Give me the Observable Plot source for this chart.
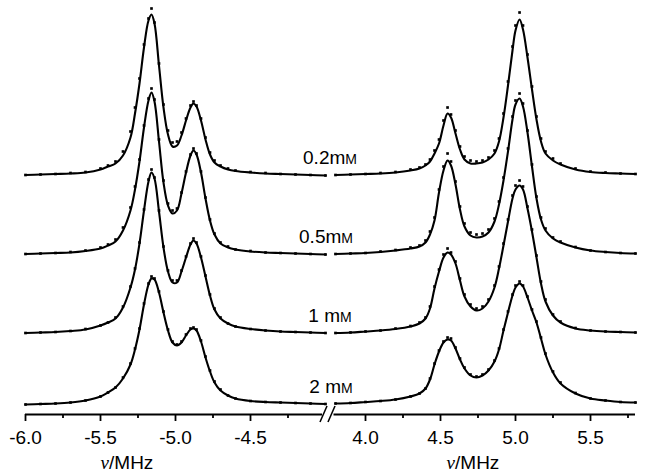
<!DOCTYPE html>
<html><head><meta charset="utf-8">
<script src="https://cdn.jsdelivr.net/npm/d3@7"></script>
<script src="https://cdn.jsdelivr.net/npm/@observablehq/plot@0.6"></script>
<style>
html,body{margin:0;padding:0;background:#fff;}
#chart{width:645px;height:476px;}
</style></head><body><div id="chart"></div>
<script>
// ---------- DATA (intensity in arbitrary units) ----------
const concentrations = ["0.2", "0.5", "1", "2"];           // mM
const labelMain = ["0.2m", "0.5m", "1 m", "2 m"];
const labelSmallCap = "M";

const freqLeft = [-6.00,-5.90,-5.80,-5.70,-5.60,-5.50,-5.45,-5.40,-5.35,-5.30,-5.27,-5.24,-5.21,-5.18,-5.16,-5.14,-5.11,-5.08,-5.05,-5.02,-4.99,-4.96,-4.93,-4.90,-4.88,-4.86,-4.83,-4.80,-4.77,-4.74,-4.70,-4.65,-4.60,-4.50,-4.40,-4.30,-4.20,-4.10,-4.00];
const freqRight = [3.80,3.90,4.00,4.10,4.20,4.30,4.36,4.40,4.43,4.46,4.49,4.52,4.547,4.57,4.60,4.63,4.66,4.70,4.74,4.78,4.82,4.86,4.89,4.92,4.95,4.98,5.00,5.027,5.05,5.08,5.11,5.14,5.17,5.20,5.25,5.30,5.40,5.50,5.60,5.70,5.80];

// fitted curves (solid lines)
const fitLeft_02 = [0.5,1,1.5,2,3,6,9,12,20,38,62,92,128,155,161,152,110,68,41,29,30,40,55,68,72,69,55,36,21,13,9,6,4.5,3,2,1.5,1,0.5,0];
const fitLeft_05 = [0.5,1,1.5,2,3.5,6,9,13,24,44,65,93,127,154,162,153,113,72,49,41,44,61,82,99,104,100,82,56,34,20,11,7,5,3,2,1.5,1,0.5,0];
const fitLeft_1  = [0.5,1,1.5,2.5,4,8,11,15,26,46,64,90,123,152,161,155,122,86,62,51,51,62,76,89,93,90,76,57,38,24,15,10,7,4.5,3,2,1.5,1,0.5];
const fitLeft_2  = [0,0.5,1,2,4,8,12,17,26,40,55,75,100,120,126,125,112,92,74,62,59,62,69,75,76,74,63,47,33,22,14,9,6,3.5,2.5,2,1.5,1,0.5];

const fitRight_02 = [0.5,1,1.5,2,3,5,7,10,14,22,32,50,62,58,42,26,16,12,12,13,16,22,34,58,90,125,145,156,146,118,86,56,34,22,15,11,6,3.5,2.5,2,1.5];
const fitRight_05 = [0.5,1,1.5,2.5,4,6,8,12,20,34,62,84,94,89,70,45,28,19,17,18,22,33,50,74,103,135,150,156,148,122,88,56,35,24,16,12,7,4,2.5,1.5,1];
const fitRight_1  = [0.5,1,2,3,4.5,7,10,15,25,45,62,76,81,79,70,53,37,27,23,25,32,46,65,88,112,135,144,148,144,125,102,76,50,32,18,11,5,3,2,1.5,1];
const fitRight_2  = [1,1.5,2.5,3.5,5,8,11,16,25,40,53,62,65,64,56,45,36,29,27,29,34,43,55,74,92,109,117,121,118,107,94,82,66,50,32,21,11,6,4,2.5,2];

// measured points (dots)
const dataLeft_02 = [0.5,1,1.5,2.5,3.5,7,10,14,24,44,68,97,131,157,167,153,112,71,45,33,34,43,57,70,74,70,57,38,23,15,10,7,5,3.5,2.5,1.5,1,0.5,0];
const dataLeft_05 = [0.5,1,1.5,2.5,4,7,10,15,27,47,68,95,129,156,166,155,115,74,51,44,46,62,83,100,106,101,83,57,35,21,12,8,5,3.5,2,1.5,1,0.5,0];
const dataLeft_1  = [0.5,1,1.5,2.5,4.5,8,11,16,27,47,65,91,124,154,164,156,123,87,63,53,53,63,77,90,95,91,77,58,39,25,16,10,7,4.5,3,2,1.5,1,0.5];
const dataLeft_2  = [0,0.5,1,2,4,8,12,17,27,41,56,76,101,121,128,126,113,93,75,63,60,63,70,76,77,75,64,48,34,23,15,9,6,3.5,2.5,2,1.5,1,0.5];

const dataRight_02 = [0.5,1,1.5,2.5,3.5,6,8,11,16,25,36,55,68,61,45,29,19,15,14,15,18,25,37,62,94,129,150,163,150,121,89,59,37,24,17,12,7,4,3,2,1.5];
const dataRight_05 = [0.5,1,1.5,3,4.5,7,9,14,23,37,65,88,101,93,73,48,31,22,20,21,25,36,53,77,106,138,154,161,151,124,90,58,37,26,17,13,7.5,4,2.5,1.5,1];
const dataRight_1  = [0.5,1,2,3,5,7.5,11,16,27,47,64,79,85,81,72,55,39,29,25,27,34,48,67,90,114,138,148,153,147,127,104,78,52,34,19,12,5.5,3,2,1.5,1];
const dataRight_2  = [1,1.5,2.5,3.5,5,8,11,16,26,41,54,63,67,66,57,46,37,30,28,30,35,44,56,75,93,110,119,123,119,108,95,83,67,51,33,22,11.5,6,4,2.5,2];

const majorTicks = [-6.0,-5.5,-5.0,-4.5,4.0,4.5,5.0,5.5];
const minorTicks = [-5.75,-5.25,-4.75,-4.25,4.25,4.75,5.25,5.75];
const axisTitle = "/MHz";

// ---------- LAYOUT ----------
// broken axis: the right panel (3.8 … 5.8) is shifted to sit just after the left one (-6 … -4)
const LEFT_END = -4.0, RIGHT_START = 3.8, GAP = 10 / 150;
const toU = f => f <= LEFT_END + 1e-9 ? f : f - RIGHT_START + LEFT_END + GAP;
const fromU = u => u <= LEFT_END + 1e-9 ? u : u + RIGHT_START - LEFT_END - GAP;

const stackOffset = [239, 160, 81, 10];   // vertical stacking of the traces
const fits = [[fitLeft_02, fitRight_02],[fitLeft_05, fitRight_05],[fitLeft_1, fitRight_1],[fitLeft_2, fitRight_2]];
const datas = [[dataLeft_02, dataRight_02],[dataLeft_05, dataRight_05],[dataLeft_1, dataRight_1],[dataLeft_2, dataRight_2]];

const fitRows = [], dataRows = [];
concentrations.forEach((c, i) => {
  [freqLeft, freqRight].forEach((fx, side) => {
    fx.forEach((f, k) => {
      fitRows.push({x: toU(f), y: fits[i][side][k] + stackOffset[i], s: c + "-" + side});
      dataRows.push({x: toU(f), y: datas[i][side][k] + stackOffset[i]});
    });
  });
});

const FONT = "'Liberation Sans', Arial, Helvetica, sans-serif";

const plot = Plot.plot({
  width: 645, height: 476,
  marginLeft: 25, marginRight: 10, marginTop: 4, marginBottom: 62,
  x: {domain: [toU(-6), toU(5.8)], range: [25, 635]},
  y: {domain: [0, 410], range: [414, 4], axis: null},
  style: {fontFamily: FONT, fontSize: "19px", color: "black", background: "white", overflow: "visible"},
  marks: [
    Plot.line(fitRows, {x: "x", y: "y", z: "s", stroke: "black", strokeWidth: 2.1, curve: "catmull-rom"}),
    Plot.dot(dataRows, {x: "x", y: "y", symbol: "square", r: 1.5, fill: "black", stroke: null}),
    Plot.ruleY([0], {x1: toU(-6), x2: toU(-4.02), stroke: "black", strokeWidth: 2}),
    Plot.ruleY([0], {x1: toU(3.79), x2: toU(5.8), stroke: "black", strokeWidth: 2}),
    Plot.axisX({ticks: majorTicks.map(toU), tickSize: 7, tickPadding: 9, tickFormat: u => fromU(u).toFixed(1), label: null, strokeWidth: 1.8, fontSize: 19, fill: "black"}),
    Plot.axisX({ticks: minorTicks.map(toU), tickSize: 4, tickFormat: () => "", label: null, strokeWidth: 1.8})
  ]
});
document.getElementById("chart").appendChild(plot);

// ---------- annotations ----------
const xs = plot.scale("x"), ys = plot.scale("y");
const svg = d3.select(plot);
const g = svg.append("g").attr("font-family", FONT).attr("fill", "black");
const gapMid = (xs.apply(toU(-4)) + xs.apply(toU(3.8))) / 2;
const labelDx = [0, -4, 0, 1];
concentrations.forEach((c, i) => {
  const t = g.append("text")
    .attr("x", gapMid + labelDx[i])
    .attr("y", ys.apply(stackOffset[i]) - 11)
    .attr("text-anchor", "middle")
    .attr("font-size", 19);
  t.append("tspan").text(labelMain[i]);
  t.append("tspan").attr("font-size", 14).text(labelSmallCap);
});
[-5.32, 4.72].forEach(v => {
  const t = g.append("text")
    .attr("x", xs.apply(toU(v)))
    .attr("y", 469)
    .attr("text-anchor", "middle")
    .attr("font-size", 19);
  t.append("tspan").attr("font-family", "'Liberation Serif', 'Times New Roman', serif").attr("font-style", "italic").text("\u03BD");
  t.append("tspan").text(axisTitle);
});
// axis break marks
const bx = xs.apply(toU(-4.02)), by = ys.apply(0);
[0, 8].forEach(d => {
  g.append("line")
    .attr("x1", bx - 2 + d).attr("y1", by + 8)
    .attr("x2", bx + 5 + d).attr("y2", by - 8)
    .attr("stroke", "black").attr("stroke-width", 1.6);
});
</script></body></html>
